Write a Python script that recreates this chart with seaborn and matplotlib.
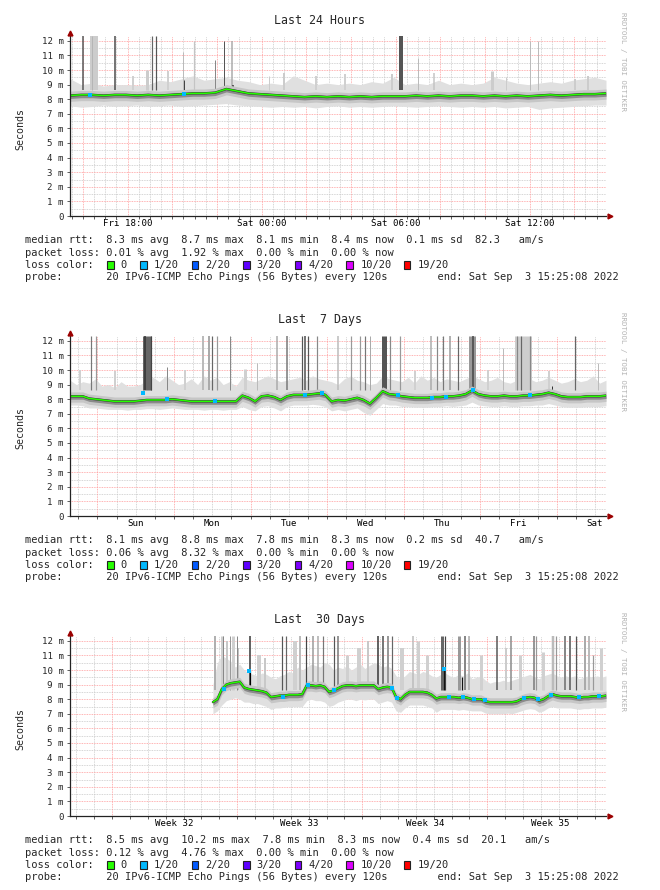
import numpy as np
import pandas as pd
import matplotlib
matplotlib.use("Agg")
import matplotlib.pyplot as plt
from matplotlib.patches import Rectangle
import seaborn as sns

# ------------------------------------------------------------------ data
# ---- panel 1 : last 24 hours (x in hours since start, 0.5 h steps)
p1_median = [8.25, 8.30, 8.30, 8.25, 8.30, 8.30, 8.25, 8.30, 8.25, 8.30,
             8.35, 8.40, 8.40, 8.45, 8.70, 8.55, 8.40, 8.35, 8.30, 8.25,
             8.20, 8.15, 8.20, 8.15, 8.20, 8.15, 8.20, 8.15, 8.20, 8.20,
             8.20, 8.25, 8.20, 8.25, 8.20, 8.25, 8.25, 8.20, 8.25, 8.20,
             8.25, 8.20, 8.25, 8.30, 8.25, 8.30, 8.35, 8.35, 8.40]
p1_low = [7.55, 7.45, 7.50, 7.60, 7.50, 7.55, 7.60, 7.50, 7.55, 7.60,
          7.50, 7.55, 7.60, 7.65, 7.70, 7.60, 7.55, 7.50, 7.45, 7.50,
          7.45, 7.50, 7.40, 7.50, 7.55, 7.45, 7.50, 7.45, 7.50, 7.55,
          7.50, 7.45, 7.50, 7.55, 7.50, 7.45, 7.50, 7.45, 7.50, 7.40,
          7.45, 7.50, 7.30, 7.40, 7.45, 7.50, 7.55, 7.60, 7.60]
p1_high = [9.4, 9.0, 9.1, 8.9, 9.0, 9.0, 8.95, 9.0, 9.3, 9.2,
           9.4, 9.6, 9.3, 9.4, 9.5, 9.3, 9.2, 9.0, 9.1, 9.0,
           9.6, 9.3, 9.0, 9.1, 9.0, 9.1, 9.0, 9.2, 9.1, 9.5,
           9.0, 9.1, 9.0, 9.3, 9.0, 9.1, 9.0, 9.1, 9.5, 9.3,
           9.1, 9.0, 9.1, 9.2, 9.1, 9.3, 9.4, 9.5, 9.3]
# spikes: (time, top value, gray shade, duration in px)
p1_spikes = [(0.6, 12.3, '#555555', 1.5), (1.07, 12.3, '#cccccc', 8), (1.0, 12.3, '#b5b5b5', 1),
             (2.0, 12.3, '#4a4a4a', 1.5), (3.45, 10.0, '#cccccc', 3), (3.65, 12.3, '#666666', 1.2),
             (3.85, 12.3, '#555555', 1.2), (5.05, 11.2, '#bbbbbb', 1), (5.1, 9.3, '#444444', 1),
             (5.55, 12.0, '#c4c4c4', 1.2), (6.5, 10.7, '#888888', 1), (6.9, 12.0, '#555555', 1),
             (7.25, 12.0, '#aaaaaa', 1.5), (7.3, 9.0, '#333333', 1.5), (8.9, 9.6, '#cccccc', 1),
             (9.6, 9.8, '#cccccc', 2), (14.4, 9.7, '#cccccc', 2), (14.8, 12.3, '#555555', 4),
             (15.6, 10.8, '#bbbbbb', 1), (16.3, 9.8, '#c4c4c4', 1.5), (18.9, 9.9, '#cccccc', 3),
             (19.5, 9.5, '#cccccc', 1), (20.6, 12.0, '#bbbbbb', 1), (20.95, 12.0, '#bbbbbb', 1),
             (22.6, 9.4, '#cccccc', 2), (23.2, 9.6, '#cccccc', 2), (12.3, 9.7, '#d0d0d0', 2),
             (2.8, 9.6, '#d0d0d0', 2), (4.4, 9.9, '#d0d0d0', 2), (11.0, 9.6, '#d0d0d0', 2)]
p1_loss_t = [0.9, 5.1]
p1_loss_v = [8.3, 8.35]
p1_labels = ["Fri 18:00", "Sat 00:00", "Sat 06:00", "Sat 12:00"]
p1_stats = ("8.3", "8.7", "8.1", "8.4", "0.1", "82.3", "0.01", "1.92", "0.00", "0.00")

# ---- panel 2 : last 7 days (x in hours since start, 2 h steps)
p2_median = [8.20, 8.20, 8.20, 8.05, 8.00, 7.95, 7.90, 7.85, 7.85, 7.85,
             7.85, 7.90, 7.95, 7.95, 7.95, 7.95, 8.00, 7.95, 7.90, 7.85,
             7.85, 7.85, 7.85, 7.85, 7.85, 7.85, 7.85, 8.25, 8.10, 7.85,
             8.20, 8.25, 8.15, 7.95, 8.20, 8.30, 8.30, 8.30, 8.35, 8.40,
             8.30, 7.85, 7.95, 7.90, 8.00, 8.10, 7.95, 7.70, 8.10, 8.55,
             8.35, 8.30, 8.20, 8.15, 8.10, 8.10, 8.10, 8.15, 8.15, 8.20,
             8.20, 8.25, 8.35, 8.60, 8.35, 8.25, 8.20, 8.20, 8.25, 8.20,
             8.20, 8.25, 8.25, 8.30, 8.35, 8.45, 8.35, 8.20, 8.15, 8.15,
             8.15, 8.20, 8.20, 8.20, 8.25]
p2_low = [7.60, 7.60, 7.55, 7.40, 7.40, 7.35, 7.30, 7.30, 7.30, 7.25,
          7.30, 7.30, 7.35, 7.35, 7.30, 7.35, 7.40, 7.35, 7.30, 7.30,
          7.30, 7.25, 7.30, 7.30, 7.25, 7.30, 7.30, 7.50, 7.30, 7.20,
          7.50, 7.55, 7.40, 7.20, 7.50, 7.60, 7.60, 7.60, 7.65, 7.60,
          7.50, 7.20, 7.30, 7.20, 7.30, 7.40, 7.10, 6.90, 7.30, 7.70,
          7.60, 7.60, 7.50, 7.50, 7.45, 7.45, 7.45, 7.50, 7.50, 7.55,
          7.50, 7.55, 7.60, 7.80, 7.60, 7.55, 7.50, 7.50, 7.55, 7.50,
          7.50, 7.55, 7.55, 7.60, 7.60, 7.70, 7.60, 7.50, 7.45, 7.45,
          7.45, 7.50, 7.50, 7.50, 7.55]
p2_high = [9.3, 9.0, 9.2, 9.1, 9.4, 8.9, 9.0, 8.8, 9.2, 8.9,
           8.9, 9.0, 9.3, 9.5, 9.2, 9.6, 9.3, 9.0, 9.1, 9.4,
           9.0, 9.6, 9.3, 9.5, 9.0, 9.2, 8.9, 9.5, 9.3, 9.2,
           9.4, 9.6, 9.4, 9.2, 9.3, 9.4, 9.5, 9.3, 9.6, 9.4,
           9.3, 9.2, 9.0, 9.4, 9.6, 9.3, 9.2, 9.0, 9.1, 9.6,
           9.4, 9.3, 9.2, 9.5, 9.1, 9.6, 9.3, 9.5, 9.2, 9.4,
           9.3, 9.2, 9.4, 9.6, 9.4, 9.2, 9.3, 9.5, 9.2, 9.1,
           9.3, 9.2, 9.4, 9.2, 9.3, 9.5, 9.3, 9.1, 9.2, 9.4,
           9.2, 9.3, 9.6, 9.1, 9.3]
p2_spikes = [(6.5, 12.3, '#777777', 1.2), (8.0, 12.3, '#999999', 1.2), (24.2, 12.3, '#666666', 9),
             (23.5, 12.3, '#333333', 1.5), (25.3, 12.3, '#444444', 1.2), (30.3, 10.2, '#888888', 1),
             (41.7, 12.3, '#bbbbbb', 2), (43.5, 12.3, '#aaaaaa', 2), (44.5, 12.3, '#666666', 1.2),
             (46.0, 12.3, '#999999', 1.2), (50.0, 12.3, '#888888', 1), (58.5, 10.5, '#bbbbbb', 1),
             (64.8, 12.3, '#aaaaaa', 1.5), (68.0, 12.3, '#777777', 1.5), (72.6, 12.3, '#555555', 1.2),
             (73.6, 12.3, '#777777', 2), (74.7, 12.3, '#555555', 1.2), (77.3, 12.3, '#888888', 1.2),
             (84.0, 12.3, '#bbbbbb', 1.5), (88.0, 12.3, '#999999', 1.2), (91.0, 12.3, '#999999', 1.2),
             (92.5, 12.3, '#777777', 1.2), (94.0, 12.3, '#aaaaaa', 1), (98.5, 12.3, '#555555', 5),
             (100.3, 12.3, '#888888', 1.2), (103.4, 12.3, '#999999', 1.2), (113.0, 12.3, '#aaaaaa', 1.5),
             (115.0, 12.3, '#888888', 1.2), (117.0, 12.3, '#777777', 1.2), (119.0, 12.3, '#999999', 1.5),
             (121.5, 12.3, '#666666', 1.2), (126.0, 12.3, '#999999', 7), (126.3, 12.3, '#444444', 1.5),
             (135.7, 11.5, '#bbbbbb', 1), (142.0, 12.3, '#cdcdcd', 17), (140.0, 12.3, '#888888', 1.2),
             (141.5, 12.3, '#666666', 1.2), (144.3, 12.3, '#888888', 1.2), (151.0, 8.9, '#333333', 1),
             (158.3, 12.3, '#666666', 1.2), (165.5, 10.5, '#bbbbbb', 1), (3.0, 10.0, '#d0d0d0', 2),
             (14.0, 9.9, '#d0d0d0', 2), (36.0, 10.0, '#d0d0d0', 2), (55.0, 10.1, '#d0d0d0', 3),
             (108.0, 9.9, '#d0d0d0', 2), (131.0, 10.0, '#d0d0d0', 2), (150.0, 9.9, '#d0d0d0', 2)]
p2_loss_t = [22.9, 30.3, 45.5, 73.7, 79.0, 102.8, 113.5, 118.0, 126.3, 144.2]
p2_loss_v = [8.45, 8.0, 7.9, 8.3, 8.4, 8.3, 8.1, 8.15, 8.6, 8.3]
p2_labels = ["Sun", "Mon", "Tue", "Wed", "Thu", "Fri", "Sat"]
p2_stats = ("8.1", "8.8", "7.8", "8.3", "0.2", "40.7", "0.06", "8.32", "0.00", "0.00")

# ---- panel 3 : last 30 days (x in days since start, 0.25 d steps from day 8)
p3_median = [7.80, 8.00, 8.70, 9.00, 9.10, 9.15, 9.20, 8.80, 8.70, 8.65,
             8.60, 8.55, 8.45, 8.15, 8.20, 8.25, 8.25, 8.30, 8.30, 8.30,
             8.35, 8.95, 8.95, 8.90, 8.95, 8.85, 8.50, 8.60, 8.75, 8.90,
             8.95, 8.95, 8.90, 8.95, 8.95, 8.95, 8.95, 8.70, 8.80, 8.85,
             8.80, 8.15, 8.00, 8.30, 8.50, 8.50, 8.50, 8.50, 8.45, 8.30,
             8.05, 8.15, 8.15, 8.15, 8.15, 8.10, 8.15, 8.10, 8.00, 8.00,
             8.00, 7.85, 7.80, 7.80, 7.80, 7.80, 7.80, 7.80, 7.85, 8.00,
             8.10, 8.15, 8.10, 7.90, 8.00, 8.20, 8.35, 8.25, 8.20, 8.20,
             8.20, 8.15, 8.10, 8.15, 8.15, 8.20, 8.20, 8.20, 8.25]
p3_low = [7.00, 7.20, 7.60, 7.90, 8.00, 8.10, 8.00, 7.80, 7.80, 7.70,
          7.70, 7.60, 7.50, 7.30, 7.40, 7.40, 7.45, 7.50, 7.50, 7.50,
          7.50, 7.90, 8.00, 7.90, 7.90, 7.80, 7.50, 7.60, 7.80, 7.90,
          8.00, 8.00, 7.90, 8.00, 7.95, 8.00, 8.00, 7.70, 7.80, 7.90,
          7.80, 7.20, 7.10, 7.40, 7.60, 7.60, 7.60, 7.60, 7.50, 7.40,
          7.10, 7.30, 7.30, 7.30, 7.30, 7.25, 7.30, 7.25, 7.20, 7.20,
          7.20, 7.05, 7.00, 7.00, 7.00, 7.00, 7.05, 7.00, 7.10, 7.20,
          7.30, 7.35, 7.30, 7.10, 7.20, 7.40, 7.50, 7.40, 7.40, 7.40,
          7.40, 7.35, 7.30, 7.35, 7.35, 7.40, 7.40, 7.40, 7.45]
p3_high = [9.0, 10.5, 11.0, 10.8, 10.6, 10.2, 10.4, 10.0, 9.8, 9.7,
           9.6, 9.8, 9.7, 9.5, 9.4, 9.6, 9.7, 9.9, 9.8, 10.2,
           10.0, 10.2, 10.4, 10.3, 10.2, 10.5, 10.4, 10.0, 10.2, 10.1,
           10.3, 10.0, 10.2, 10.4, 10.1, 10.3, 10.5, 10.4, 10.2, 10.3,
           10.1, 9.6, 9.4, 9.6, 9.9, 9.8, 9.7, 9.9, 9.8, 9.6,
           9.5, 9.7, 9.8, 9.6, 9.5, 9.7, 9.6, 9.8, 9.4, 9.5,
           9.6, 9.3, 9.1, 9.2, 9.2, 9.3, 9.2, 9.3, 9.4, 9.5,
           9.6, 9.7, 9.5, 9.4, 9.6, 9.7, 9.8, 9.6, 9.5, 9.6,
           9.5, 9.6, 9.4, 9.5, 9.6, 9.5, 9.6, 9.5, 9.6]
p3_spikes = [(8.1, 12.3, '#b0b0b0', 2), (8.5, 12.3, '#cfcfcf', 3), (8.8, 12.0, '#c8c8c8', 2),
             (9.1, 12.3, '#d0d0d0', 3), (9.4, 11.5, '#c0c0c0', 2), (8.56, 12.3, '#888888', 1),
             (8.95, 12.3, '#999999', 1), (9.35, 12.3, '#888888', 1), (10.07, 12.3, '#333333', 1.5),
             (10.6, 11.0, '#d0d0d0', 4), (10.9, 10.8, '#c8c8c8', 2), (11.85, 12.3, '#555555', 1.2),
             (12.1, 12.3, '#666666', 1.2), (12.6, 12.0, '#d0d0d0', 4), (12.9, 12.3, '#bbbbbb', 2),
             (13.2, 12.3, '#444444', 1.2), (13.6, 12.3, '#999999', 1.5), (13.9, 12.3, '#aaaaaa', 1.5),
             (14.15, 12.3, '#777777', 1.2), (14.75, 12.3, '#555555', 1.2), (15.0, 12.3, '#777777', 1.5),
             (15.5, 11.0, '#d0d0d0', 3), (16.2, 11.5, '#d0d0d0', 4), (16.7, 12.0, '#c8c8c8', 2),
             (17.25, 12.3, '#333333', 1.5), (17.5, 12.3, '#777777', 2), (17.8, 12.3, '#999999', 2),
             (18.05, 12.3, '#666666', 1.2), (18.6, 11.5, '#d0d0d0', 4), (19.2, 12.3, '#bbbbbb', 1.5),
             (19.5, 12.0, '#d0d0d0', 3), (20.0, 11.0, '#d0d0d0', 3), (20.8, 12.3, '#666666', 3),
             (21.0, 12.3, '#444444', 1.2), (21.8, 12.3, '#999999', 3), (22.1, 12.3, '#888888', 2),
             (22.35, 12.3, '#aaaaaa', 1.5), (23.0, 11.0, '#d0d0d0', 3), (23.9, 12.3, '#555555', 1.5),
             (24.4, 11.5, '#cccccc', 2), (24.7, 12.3, '#888888', 1.5), (25.2, 11.0, '#d0d0d0', 3),
             (25.95, 12.3, '#777777', 1.5), (26.1, 12.3, '#999999', 1.2), (26.5, 11.2, '#d0d0d0', 3),
             (27.05, 12.3, '#bbbbbb', 2.5), (27.2, 12.3, '#999999', 1.2), (27.7, 12.3, '#888888', 2),
             (28.0, 12.3, '#777777', 2), (28.3, 12.3, '#555555', 1.2), (28.8, 12.3, '#aaaaaa', 2),
             (29.05, 12.3, '#bbbbbb', 2), (29.3, 11.0, '#999999', 1.2), (29.7, 11.5, '#d0d0d0', 3),
             (20.95, 10.2, '#111111', 1.2), (21.95, 9.5, '#111111', 1.2), (10.07, 10.0, '#000000', 1.2)]
p3_loss_t = [8.6, 10.0, 11.9, 13.3, 14.8, 18.0, 18.3, 20.95, 21.2, 22.0, 22.6, 23.2, 25.4, 26.2, 26.9, 28.5, 29.6]
p3_loss_v = [8.7, 9.95, 8.15, 8.95, 8.6, 8.8, 8.1, 10.1, 8.15, 8.15, 8.0, 7.95, 8.1, 8.0, 8.3, 8.15, 8.2]
p3_labels = ["Week 32", "Week 33", "Week 34", "Week 35"]
p3_stats = ("8.5", "10.2", "7.8", "8.3", "0.4", "20.1", "0.12", "4.76", "0.00", "0.00")

titles = ["Last 24 Hours", "Last  7 Days", "Last  30 Days"]
loss_names = ["0", "1/20", "2/20", "3/20", "4/20", "10/20", "19/20"]
loss_colors = ["#26ff00", "#00b8ff", "#0059ff", "#5e00ff", "#7e00ff", "#dd00ff", "#ff0000"]
probe_text = "20 IPv6-ICMP Echo Pings (56 Bytes) every 120s"
end_text = "end: Sat Sep  3 15:25:08 2022"

# ------------------------------------------------------------------ style
sns.set_theme(style="white")
plt.rcParams["font.family"] = ["DejaVu Sans Mono", "DejaVu Sans"]

W, H = 660, 890
fig = plt.figure(figsize=(W / 100, H / 100), dpi=100)
fig.patch.set_facecolor("white")

PXM = 14.6          # pixels per ms
YTOP = 12.3
AX_L, AX_W = 70, 536
MONO = 7.45
AXF = 6.6

def fx(px):
    return px / W

def fy(py):
    return 1 - py / H

def draw_panel(i, xmax, t, med, lo, hi, spikes, loss_t, loss_v,
               minor_x, major_x, lab_x, labels, stats):
    bottom = 216 + 300 * i
    h = YTOP * PXM
    ax = fig.add_axes([fx(AX_L), fy(bottom), AX_W / W, h / H])
    ax.set_xlim(0, xmax)
    ax.set_ylim(0, YTOP)
    ax.set_facecolor("white")

    # grid
    for y in np.arange(0.5, 12.1, 1.0):
        ax.axhline(y, color="#c8c8c8", lw=0.6, ls=(0, (1, 1)), zorder=1)
    for y in range(1, 13):
        ax.axhline(y, color="#ff9a9a", lw=0.6, ls=(0, (1, 1)), zorder=1.1)
    for x in minor_x:
        ax.axvline(x, color="#c8c8c8", lw=0.6, ls=(0, (1, 1)), zorder=1)
    for x in major_x:
        ax.axvline(x, color="#ff9a9a", lw=0.6, ls=(0, (1, 1)), zorder=1.1)

    t = np.asarray(t)
    med = np.asarray(med)
    # smoke
    ax.fill_between(t, lo, hi, color="#e0e0e0", lw=0, zorder=2)
    st = [s[0] for s in spikes]
    stop = [s[1] for s in spikes]
    scol = [s[2] for s in spikes]
    sw = [s[3] * 0.72 for s in spikes]
    ax.vlines(st, [8.6] * len(st), stop, colors=scol, linewidths=sw, zorder=2.5)
    ax.fill_between(t, med - 0.4, med + 0.3, color="#c6c6c6", lw=0, zorder=3)
    ax.fill_between(t, med - 0.2, med + 0.1, color="#8a8a8a", lw=0, zorder=3.2)

    df = pd.DataFrame({"t": t, "rtt": med})
    sns.lineplot(data=df, x="t", y="rtt", ax=ax, color="#333333", lw=1.7, zorder=4)
    sns.lineplot(data=df, x="t", y="rtt", ax=ax, color="#26ff00", lw=1.1, zorder=5)
    dl = pd.DataFrame({"t": loss_t, "rtt": loss_v})
    sns.scatterplot(data=dl, x="t", y="rtt", ax=ax, color="#00b8ff", marker="s", s=5,
                    linewidth=0, zorder=6)

    ax.set_xlabel("")
    ax.set_ylabel("")
    # axes
    for sp in ("top", "right"):
        ax.spines[sp].set_visible(False)
    for sp in ("left", "bottom"):
        ax.spines[sp].set_color("#222222")
        ax.spines[sp].set_linewidth(0.9)
        ax.spines[sp].set_zorder(7)
    ax.set_xticks(lab_x)
    ax.set_xticklabels(labels)
    ax.set_xticks(list(minor_x) + list(major_x), minor=True)
    ax.set_yticks(range(0, 13))
    ax.set_yticklabels(["0"] + [f"{k} m" for k in range(1, 13)])
    ax.tick_params(axis="x", which="major", length=0, pad=2.5, labelsize=AXF, colors="black")
    ax.tick_params(axis="x", which="minor", length=2, width=0.6, color="#444444",
                   direction="out", bottom=True)
    ax.tick_params(axis="y", which="major", length=2.5, width=0.6, color="#444444",
                   pad=2, labelsize=AXF, left=True, direction="out")
    # arrows
    ax.plot([1.007], [0], transform=ax.transAxes, marker=">", ms=3.5, color="#9b0000",
            clip_on=False, zorder=8)
    ax.plot([0], [1.019], transform=ax.transAxes, marker="^", ms=3.5, color="#9b0000",
            clip_on=False, zorder=8)

    # titles / texts
    oy = 300 * i
    fig.text(fx(320), fy(20 + oy), titles[i], ha="center", va="center", fontsize=8.4)
    fig.text(fx(20), fy(128.5 + oy), "Seconds", rotation=90, ha="center", va="center",
             fontsize=7.2)
    fig.text(fx(623), fy(12.5 + oy), "RRDTOOL / TOBI OETIKER", rotation=-90, ha="center",
             va="top", fontsize=5.3, color="#b3b3b3")
    a, mx, mn, nw, sd, ams, la, lmx, lmn, lnw = stats
    line1 = (f"median rtt:  {a} ms avg  {mx} ms max  {mn} ms min  {nw} ms now  "
             f"{sd} ms sd  {ams}   am/s")
    line2 = f"packet loss: {la} % avg  {lmx} % max  {lmn} % min  {lnw} % now"
    line4 = f"probe:       {probe_text}        {end_text}"
    ys = [240 + oy, 252.5 + oy, 265 + oy, 277.5 + oy]
    fig.text(fx(25), fy(ys[0]), line1, va="center", fontsize=MONO)
    fig.text(fx(25), fy(ys[1]), line2, va="center", fontsize=MONO)
    fig.text(fx(25), fy(ys[2]), "loss color:", va="center", fontsize=MONO)
    fig.text(fx(25), fy(ys[3]), line4, va="center", fontsize=MONO)
    sq_x = [107.3, 140.0, 191.5, 243.0, 294.6, 346.4, 404.0]
    tx_x = [120.8, 154.0, 205.0, 256.7, 308.5, 360.7, 418.0]
    for name, col, sx, tx in zip(loss_names, loss_colors, sq_x, tx_x):
        fig.patches.append(Rectangle((fx(sx), fy(ys[2] + 4)), 6.5 / W, 8 / H,
                                     transform=fig.transFigure, facecolor=col,
                                     edgecolor="#222222", lw=0.8))
        fig.text(fx(tx), fy(ys[2]), name, va="center", fontsize=MONO)
    return ax

# ---- panel 1 geometry (hours)
p1_t = np.arange(0, 24.01, 0.5)
h_off = 0.0811
p1_minor = [h_off + 0.5 * k for k in range(48) if (k - 1) % 4 != 0]
p1_major = [h_off + 0.5 + 2 * k for k in range(12)]
p1_lab = [2.581, 8.581, 14.581, 20.581]
draw_panel(0, 24, p1_t, p1_median, p1_low, p1_high, p1_spikes, p1_loss_t, p1_loss_v,
           p1_minor, p1_major, p1_lab, p1_labels, p1_stats)

# ---- panel 2 geometry (hours)
p2_t = np.arange(0, 168.01, 2.0)
p2_major = [8.581 + 24 * k for k in range(7)]
p2_minor = [2.581 + 6 * k for k in range(28) if (k - 1) % 4 != 0]
p2_lab = [20.581 + 24 * k for k in range(7)]
draw_panel(1, 168, p2_t, p2_median, p2_low, p2_high, p2_spikes, p2_loss_t, p2_loss_v,
           p2_minor, p2_major, p2_lab, p2_labels, p2_stats)

# ---- panel 3 geometry (days)
p3_t = np.arange(8.0, 30.01, 0.25)
p3_major = [2.358 + 7 * k for k in range(4)]
p3_minor = [0.358 + k for k in range(30) if (k - 2) % 7 != 0]
p3_lab = [5.858 + 7 * k for k in range(4)]
draw_panel(2, 30, p3_t, p3_median, p3_low, p3_high, p3_spikes, p3_loss_t, p3_loss_v,
           p3_minor, p3_major, p3_lab, p3_labels, p3_stats)

fig.savefig("out.png", dpi=100, facecolor="white")
